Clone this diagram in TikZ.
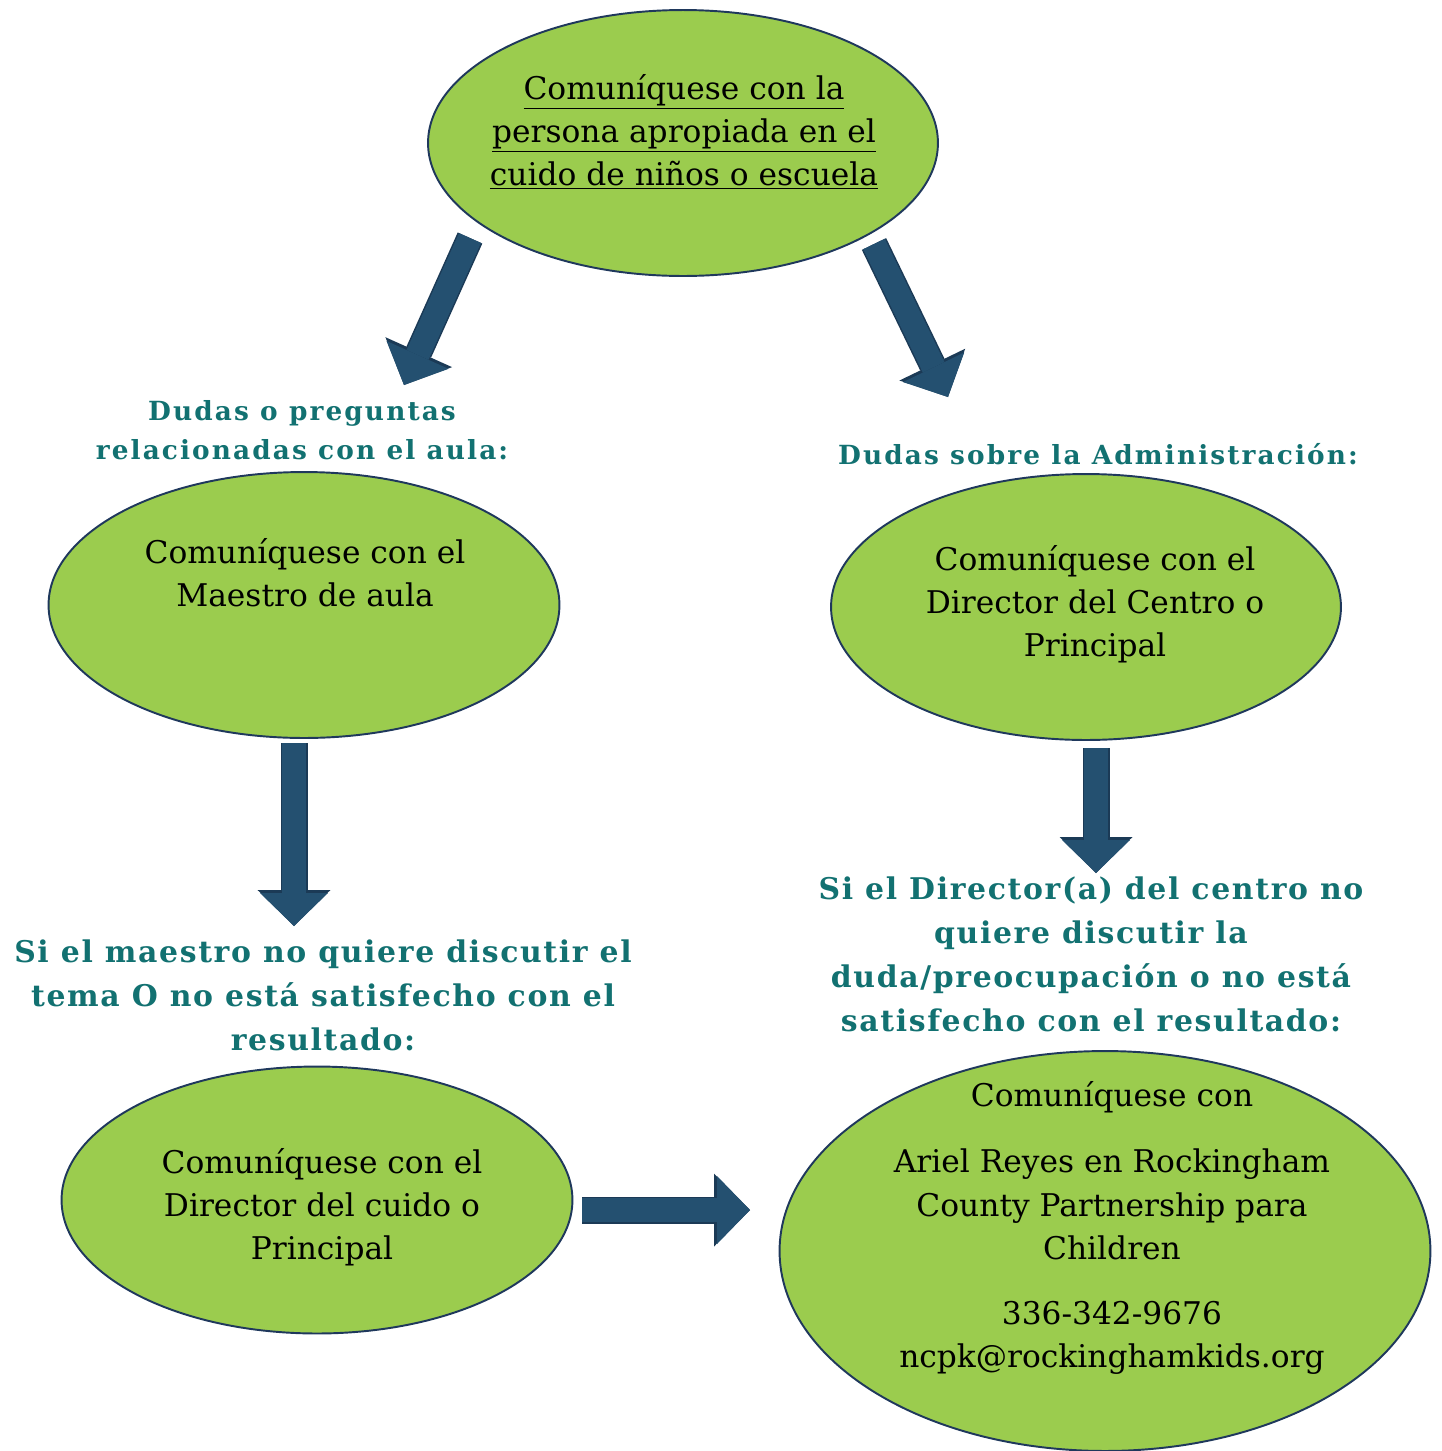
\documentclass[tikz,border=0pt]{standalone}
\usepackage{fontspec}
\setmainfont{DejaVu Serif}
\newfontfamily\headfont[LetterSpace=5.5]{DejaVu Serif}
\newfontfamily\smallheadfont[LetterSpace=8]{DejaVu Serif}
\usetikzlibrary{arrows.meta,shapes.geometric}

\definecolor{bubblegreen}{RGB}{155,204,78}
\definecolor{bubbleedge}{RGB}{31,56,92}
\definecolor{arrowblue}{RGB}{36,80,112}
\definecolor{arrowedge}{RGB}{27,58,86}
\definecolor{headteal}{RGB}{18,113,113}

\begin{document}
\begin{tikzpicture}[x = 0.02cm, y = -0.02cm,
                      bubble/.style = {ellipse, draw = bubbleedge, fill = bubblegreen, line width = 1.1pt, inner sep = 0pt},
                      body/.style = {align = center, inner sep = 0pt, font = \fontsize{17.8}{24.5}\selectfont},
                      head/.style = {align = center, inner sep = 0pt, text = headteal, font = \headfont\bfseries\fontsize{17}{25}\selectfont},
                      smallhead/.style = {head, font = \smallheadfont\bfseries\fontsize{15}{22}\selectfont},
                      bigarrow/.style = {draw = arrowblue, line width = 0.48cm,
                                         -{Triangle[width = 1.36cm, length = 0.66cm, line width = 0pt]},
                                         preaction = {draw = arrowedge, line width = 0.54cm,
                                         -{Triangle[width = 1.46cm, length = 0.72cm, line width = 0pt]}}}]
    \useasboundingbox (0, 0) rectangle (1442, 1451);

    % the five bubbles
    \node [bubble, minimum width = 10.2cm, minimum height = 5.32cm] (top) at (683, 143) {};
    \node [bubble, minimum width = 10.22cm, minimum height = 5.32cm] (aula) at (304, 605) {};
    \node [bubble, minimum width = 10.2cm, minimum height = 5.32cm] (admin) at (1086, 607) {};
    \node [bubble, minimum width = 10.22cm, minimum height = 5.34cm] (cuido) at (317, 1200) {};
    \node [bubble, minimum width = 13.02cm, minimum height = 8.0cm] (partner) at (1105, 1251) {};

    \node [body] (ttop) at (684, 132) {\underline{Comuníquese con la}\\
        \underline{persona apropiada en el}\\ \underline{cuido de niños o escuela}};
    \node [body] (taula) at (305, 573) {Comuníquese con el\\ Maestro de aula};
    \node [body] (tadmin) at (1095, 604) {Comuníquese con el\\ Director del Centro o\\ Principal};
    \node [body] (tcuido) at (322, 1207) {Comuníquese con el\\ Director del cuido o\\ Principal};
    \node [body] (tpartner) at (1112, 1228) {Comuníquese con\\[0.46cm]
        Ariel Reyes en Rockingham\\ County Partnership para\\ Children\\[0.44cm]
        336-342-9676\\ ncpk@rockinghamkids.org};

    % headings
    \node [smallhead] (haula) at (302, 430) {Dudas o preguntas\\ relacionadas con el aula:};
    \node [smallhead] (hadmin) at (1098, 454) {Dudas sobre la Administración:};
    \node [head] (hcuido) at (323, 995) {Si el maestro no quiere discutir el\\
        tema O no está satisfecho con el\\ resultado:};
    \node [head] (hpartner) at (1091, 954) {Si el Director(a) del centro no\\
        quiere discutir la\\ duda/preocupación o no está\\ satisfecho con el resultado:};

    % block arrows
    \coordinate (a1s) at (470, 238);
    \coordinate (a1e) at (404, 385);
    \coordinate (a2s) at (874, 244);
    \coordinate (a2e) at (948, 397);
    \coordinate (a3s) at (294, 743);
    \coordinate (a3e) at (294, 926);
    \coordinate (a4s) at (1096, 748);
    \coordinate (a4e) at (1096, 873);
    \coordinate (a5s) at (582, 1210);
    \coordinate (a5e) at (750, 1210);
    \draw [bigarrow] (a1s) -- (a1e);
    \draw [bigarrow] (a2s) -- (a2e);
    \draw [bigarrow] (a3s) -- (a3e);
    \draw [bigarrow] (a4s) -- (a4e);
    \draw [bigarrow] (a5s) -- (a5e);
\end{tikzpicture}
\end{document}
